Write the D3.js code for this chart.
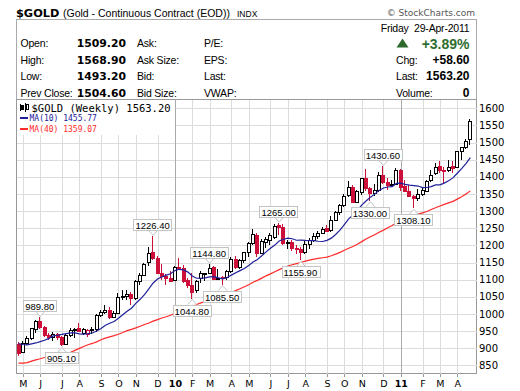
<!DOCTYPE html>
<html lang="en">
<head>
<meta charset="UTF-8" />
<title>$GOLD Weekly</title>
<style>
  html, body { margin: 0; background: #fff; }
  svg { display: block; }
  .lbl { font-family: "Liberation Sans", Arial, sans-serif; font-size: 10.5px; letter-spacing: -0.2px; fill: #000; }
  .val { font-family: "DejaVu Sans", Verdana, sans-serif; font-size: 10.8px; font-weight: bold; fill: #000; }
  .rval { font-family: "Liberation Sans", Arial, sans-serif; font-size: 12px; font-weight: bold; fill: #000; }
  .ytick { font-family: "DejaVu Sans", Verdana, sans-serif; font-size: 10px; fill: #000; }
  .xtick { font-family: "DejaVu Sans", Verdana, sans-serif; font-size: 9.5px; fill: #000; }
  .call { font-family: "Liberation Sans", Arial, sans-serif; font-size: 9.5px; fill: #000; }
  .mono { font-family: "DejaVu Sans Mono", "Liberation Mono", monospace; }
</style>
<script src="https://d3js.org/d3.v7.min.js"></script>
</head>
<body>
<svg id="chart" width="520" height="391"></svg>
<script>
// weekly bars, Friday 1-May-2009 .. Friday 29-Apr-2011
const firstFriday = new Date(2009, 4, 1);

const opens = [
  913, 890, 915, 930, 957, 980, 962, 939, 934, 940, 932, 913, 937, 953, 958, 945, 940, 953,
  955, 996, 1007, 1010, 991, 1004, 1050, 1052, 1057, 1045, 1096, 1114, 1152, 1181, 1162, 1118, 1110, 1105,
  1099, 1138, 1135, 1100, 1085, 1070, 1104, 1118, 1119, 1138, 1103, 1108, 1108, 1126, 1161, 1136, 1156,
  1180, 1208, 1230, 1177, 1211, 1216, 1225, 1258, 1254, 1208, 1210, 1192, 1189, 1181, 1204, 1216, 1228,
  1237, 1250, 1245, 1275, 1297, 1317, 1347, 1370, 1328, 1357, 1397, 1367, 1353, 1363, 1406, 1386, 1376, 1380,
  1421, 1372, 1360, 1343, 1338, 1350, 1360, 1390, 1410, 1433, 1418, 1421, 1432, 1430, 1474, 1488, 1509.2
];
const highs = [
  917, 920, 935, 960, 982, 989.8, 964, 945, 946, 945, 935, 942, 958, 960, 972, 960, 956, 962,
  1000, 1010, 1025, 1020, 1008, 1062, 1070, 1070, 1065, 1100, 1120, 1150, 1195, 1226.4, 1168, 1145, 1115, 1125,
  1140, 1162, 1142, 1106, 1120, 1100, 1125, 1120, 1144.8, 1140, 1130, 1112, 1128, 1167, 1170, 1160, 1182,
  1210, 1249, 1235, 1220, 1225, 1235, 1262, 1265, 1262, 1215, 1215, 1200, 1194, 1212, 1222, 1237, 1243,
  1255, 1260, 1285, 1300, 1320, 1350, 1388, 1375, 1362, 1398, 1424, 1370, 1380, 1415, 1430.6, 1397, 1392, 1425,
  1423, 1390, 1375, 1346, 1365, 1370, 1390, 1420, 1440, 1445, 1430, 1448, 1447, 1476, 1488, 1510, 1568.9
];
const lows = [
  877, 885, 908, 925, 945, 955, 932, 925, 922, 925, 905.1, 910, 933, 930, 948, 938, 932, 940,
  948, 990, 1000, 985, 988, 1000, 1040, 1042, 1025, 1040, 1085, 1110, 1140, 1158, 1115, 1100, 1085, 1092,
  1095, 1128, 1090, 1076, 1044.8, 1060, 1090, 1095, 1115, 1100, 1098, 1085.5, 1100, 1120, 1130, 1130, 1150,
  1165, 1200, 1165, 1175, 1193, 1200, 1220, 1230, 1200, 1190, 1185, 1175, 1155.9, 1175, 1190, 1210, 1220,
  1235, 1238, 1240, 1272, 1290, 1313, 1340, 1333, 1336, 1346, 1360, 1330, 1345, 1355, 1380, 1363, 1372, 1375,
  1360, 1356, 1340, 1308.1, 1330, 1345, 1355, 1385, 1405, 1410, 1382, 1415, 1410, 1427, 1450, 1482, 1493.2
];
const closes = [
  887, 915, 930, 958, 979, 962, 939, 934, 940, 932, 913, 937, 953, 955, 950, 955, 953, 955,
  996, 1007, 1010, 991, 1004, 1050, 1052, 1057, 1045, 1096, 1114, 1146, 1177, 1162, 1118, 1110, 1105, 1097,
  1138, 1135, 1095, 1083, 1065, 1095, 1118, 1119, 1134, 1103, 1106, 1105, 1126, 1161, 1136, 1156, 1180,
  1208, 1233, 1177, 1213, 1220, 1229, 1256, 1255, 1208, 1210, 1192, 1189, 1181, 1204, 1216, 1228, 1237,
  1248, 1241, 1275, 1297, 1317, 1345, 1370, 1328, 1358, 1397, 1367, 1353, 1363, 1406, 1386, 1376, 1380, 1421,
  1369, 1360, 1343, 1339, 1351, 1361, 1388, 1404, 1430, 1421, 1419, 1429, 1427, 1474, 1485.9, 1504.6, 1563.2
];
// closes of the 39 weeks before the first bar (Aug-2008 .. Apr-2009), needed for the averages
const priorCloses = [
  912, 864, 789, 829, 835, 800, 765, 866, 887, 834, 850, 786, 737, 719, 737, 751, 801, 816, 753, 824,
  837, 872, 878, 853, 838, 899, 927, 914, 944, 1002, 942, 939, 930, 953, 924, 897, 880, 869, 913
];
// labelled swing points
const peakBars = [5, 31, 44, 60, 84];
const troughBars = [10, 40, 47, 65, 81, 91];

const yTicks = [850, 900, 950, 1000, 1050, 1100, 1150, 1200, 1250, 1300, 1350, 1400, 1450, 1500, 1550, 1600];
const monthLetters = ["J", "F", "M", "A", "M", "J", "J", "A", "S", "O", "N", "D"];

const leftRows = [
  ["Open:", "1509.20", "Ask:", "P/E:"],
  ["High:", "1568.90", "Ask Size:", "EPS:"],
  ["Low:", "1493.20", "Bid:", "Last:"],
  ["Prev Close:", "1504.60", "Bid Size:", "VWAP:"]
];
const rightRows = [["Chg:", "+58.60"], ["Last:", "1563.20"], ["Volume:", "0"]];

const RED = "#cc1039", NAVY = "#20209a", MARED = "#ff2a2a", GRID = "#dcdcdc";

const svg = d3.select("#chart");
const plot = { left: 16.5, right: 476.5, top: 99.5, bottom: 373.5 };

const y = d3.scaleLinear().domain([850, 1600]).range([365.3, 108.3]);
const x = d3.scaleTime()
  .domain([new Date(2009, 3, 27), new Date(2011, 3, 25)])
  .range([18.5, 470.3]);

const weeks = closes.map((c, i) => d3.timeWeek.offset(firstFriday, i));
const barX = i => x(d3.timeDay.offset(weeks[i], -4));

// title line
svg.append("text").attr("x", 16).attr("y", 16.5)
  .style("font-family", "DejaVu Sans, Verdana, sans-serif").style("font-weight", "bold").style("font-size", "11.3px")
  .text("$GOLD");
svg.append("text").attr("class", "lbl").attr("x", 63).attr("y", 16.5).style("font-size", "10.5px")
  .style("letter-spacing", "0px").text("(Gold - Continuous Contract (EOD))");
svg.append("text").attr("class", "lbl").attr("x", 237).attr("y", 16.5).style("font-size", "8.5px")
  .style("letter-spacing", "0px").text("INDX");
svg.append("text").attr("x", 475).attr("y", 16).attr("text-anchor", "end")
  .style("font-family", "DejaVu Sans, sans-serif").style("font-size", "9px").style("fill", "#555")
  .text("\u00A9 StockCharts.com");

// quote panel
svg.append("rect").attr("x", 16.5).attr("y", 19.5).attr("width", 460).attr("height", 80)
  .attr("fill", "#fff").attr("stroke", "#aaa");
const rowY = [47, 63.5, 80, 96.5];
leftRows.forEach((r, i) => {
  svg.append("text").attr("class", "lbl").attr("x", 20.5).attr("y", rowY[i]).text(r[0]);
  svg.append("text").attr("class", "val").attr("x", 126).attr("y", rowY[i]).attr("text-anchor", "end").text(r[1]);
  svg.append("text").attr("class", "lbl").attr("x", 137).attr("y", rowY[i]).text(r[2]);
  svg.append("text").attr("class", "lbl").attr("x", 204).attr("y", rowY[i]).text(r[3]);
});
svg.append("text").attr("class", "lbl").attr("x", 469.5).attr("y", 32).attr("text-anchor", "end")
  .attr("xml:space", "preserve").text("Friday  29-Apr-2011");
svg.append("path").attr("d", "M396.5,47.5 L408.5,47.5 L402.5,38.5 Z").attr("fill", "#2d6a2d");
svg.append("text").attr("x", 469.5).attr("y", 48.5).attr("text-anchor", "end")
  .style("font-family", "Liberation Sans, Arial, sans-serif").style("font-weight", "bold")
  .style("font-size", "14px").style("fill", "#2e6e2e").text("+3.89%");
rightRows.forEach((r, i) => {
  svg.append("text").attr("class", "lbl").attr("x", 396).attr("y", rowY[i + 1]).text(r[0]);
  svg.append("text").attr("class", "rval").attr("x", 469.5).attr("y", rowY[i + 1]).attr("text-anchor", "end").text(r[1]);
});

// plot frame and grid
svg.append("rect").attr("x", plot.left).attr("y", plot.top)
  .attr("width", plot.right - plot.left).attr("height", plot.bottom - plot.top)
  .attr("fill", "#fff").attr("stroke", "#999");

const monthTicks = [];
weeks.forEach((w, i) => {
  if (i === 0) return;
  const m = d3.timeDay.offset(w, -4), pm = d3.timeDay.offset(weeks[i - 1], -4);
  if (m.getMonth() !== pm.getMonth()) monthTicks.push({ i, month: m.getMonth(), year: m.getFullYear() });
});

const grid = svg.append("g").attr("shape-rendering", "crispEdges");
grid.selectAll("line.h").data(yTicks).join("line").attr("class", "h")
  .attr("x1", plot.left).attr("x2", plot.right)
  .attr("y1", d => Math.round(y(d)) + 0.5).attr("y2", d => Math.round(y(d)) + 0.5)
  .attr("stroke", GRID);
grid.selectAll("line.v").data(monthTicks).join("line").attr("class", "v")
  .attr("x1", d => Math.round(barX(d.i)) + 0.5).attr("x2", d => Math.round(barX(d.i)) + 0.5)
  .attr("y1", plot.top).attr("y2", plot.bottom)
  .attr("stroke", d => d.month === 0 ? "#aaa" : GRID);
grid.selectAll("line.t").data(monthTicks).join("line").attr("class", "t")
  .attr("x1", d => Math.round(barX(d.i)) + 0.5).attr("x2", d => Math.round(barX(d.i)) + 0.5)
  .attr("y1", plot.bottom).attr("y2", plot.bottom + 3)
  .attr("stroke", "#999");

// legend box
svg.append("rect").attr("x", 17).attr("y", 100).attr("width", 158).attr("height", 35).attr("fill", "#fff");
const icon = svg.append("g").attr("stroke", "#000").attr("shape-rendering", "crispEdges");
icon.append("line").attr("x1", 20.5).attr("x2", 20.5).attr("y1", 104).attr("y2", 111);
icon.append("rect").attr("x", 21.5).attr("y", 105.5).attr("width", 2).attr("height", 4).attr("fill", "#000");
icon.append("line").attr("x1", 25.5).attr("x2", 25.5).attr("y1", 103).attr("y2", 112);
icon.append("rect").attr("x", 26.5).attr("y", 104.5).attr("width", 2).attr("height", 5).attr("fill", "#fff");
svg.append("text").attr("class", "mono").attr("x", 31.5).attr("y", 111.5).style("font-size", "10.5px")
  .text("$GOLD (Weekly) " + d3.format(".2f")(closes[closes.length - 1]));

// moving averages
const allCloses = priorCloses.concat(closes);
const movingAvg = n => closes.map((c, i) => d3.mean(allCloses.slice(priorCloses.length + i - n + 1, priorCloses.length + i + 1)));
const ma10 = movingAvg(10), ma40 = movingAvg(40);

[[ma10, NAVY, "MA(10)", 121], [ma40, MARED, "MA(40)", 132]].forEach(([s, col, name, ty]) => {
  svg.append("line").attr("x1", 20).attr("x2", 28).attr("y1", ty - 3).attr("y2", ty - 3)
    .attr("stroke", col).attr("stroke-width", 2);
  svg.append("text").attr("class", "mono").attr("x", 29.5).attr("y", ty).style("font-size", "8px")
    .style("fill", col).text(name + " " + d3.format(".2f")(s[s.length - 1]));
});

// candles
const candles = svg.append("g").attr("shape-rendering", "crispEdges");
closes.forEach((c, i) => {
  const o = opens[i];
  const prev = i === 0 ? priorCloses[priorCloses.length - 1] : closes[i - 1];
  const col = c >= prev ? "#000" : RED;
  const left = Math.round(barX(i)) - 2;
  candles.append("line").attr("x1", left + 1.5).attr("x2", left + 1.5)
    .attr("y1", y(highs[i])).attr("y2", y(lows[i])).attr("stroke", col);
  const top = Math.round(y(Math.max(o, c))), bot = Math.round(y(Math.min(o, c)));
  candles.append("rect").attr("x", left + 0.5).attr("y", top + 0.5)
    .attr("width", 3).attr("height", Math.max(bot - top, 1))
    .attr("fill", c >= o ? "#fff" : col).attr("stroke", col);
});

const line = s => d3.line().x((d, i) => barX(i)).y(d => y(d))(s);
svg.append("path").attr("d", line(ma40)).attr("fill", "none").attr("stroke", MARED).attr("stroke-width", 1.2);
svg.append("path").attr("d", line(ma10)).attr("fill", "none").attr("stroke", NAVY).attr("stroke-width", 1.2);

// swing labels
function callout(i, value, above) {
  const cx = barX(i) - 0.5;
  const g = svg.append("g");
  const tip = above ? y(value) - 1 : y(value) + 1;
  const edge = above ? y(value) - 6 : y(value) + 6;
  const t = g.append("text").attr("class", "call").attr("text-anchor", "middle").text(d3.format(".2f")(value));
  const w = t.node().getComputedTextLength() + 4, h = 11;
  const top = above ? edge - h : edge;
  g.insert("path", "text")
    .attr("d", `M${cx - 4},${edge} L${cx + 0.5},${tip} L${cx + 5},${edge}`)
    .attr("fill", "#fff").attr("stroke", "#c4c4c4");
  g.insert("rect", "text").attr("x", Math.round(cx - w / 2) + 0.5).attr("y", Math.round(top) + 0.5)
    .attr("width", Math.round(w)).attr("height", h).attr("fill", "#fff").attr("stroke", "#c4c4c4")
    .attr("shape-rendering", "crispEdges");
  t.attr("x", cx).attr("y", Math.round(top) + 9.5);
}
peakBars.forEach(i => callout(i, highs[i], true));
troughBars.forEach(i => callout(i, lows[i], false));

// axes labels
svg.selectAll("text.ytick").data(yTicks).join("text").attr("class", "ytick")
  .attr("x", 479).attr("y", d => y(d)).attr("dy", "0.36em").text(d => d);
svg.selectAll("text.xtick").data(monthTicks).join("text").attr("class", "xtick")
  .attr("x", d => barX(d.i) + 0.5).attr("y", 386.5).attr("text-anchor", "middle")
  .style("font-weight", d => d.month === 0 ? "bold" : "normal")
  .text(d => d.month === 0 ? String(d.year).slice(2) : monthLetters[d.month]);
</script>
</body>
</html>
